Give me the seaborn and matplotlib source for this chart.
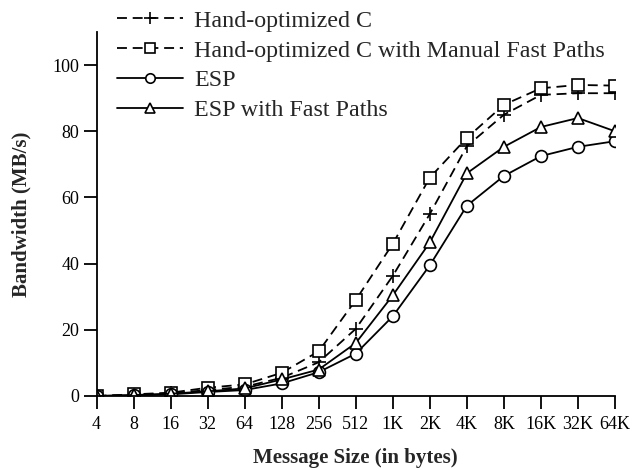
import numpy as np
import pandas as pd
import seaborn as sns
import matplotlib
matplotlib.use("Agg")
import matplotlib.pyplot as plt

sizes = [4, 8, 16, 32, 64, 128, 256, 512, 1024, 2048, 4096, 8192, 16384, 32768, 65536]
tick_labels = ["4", "8", "16", "32", "64", "128", "256", "512", "1K", "2K", "4K", "8K", "16K", "32K", "64K"]

hand_c = [0.0, 0.3, 0.8, 1.8, 2.8, 5.5, 10.2, 20.3, 36.3, 55.0, 75.5, 85.0, 91.0, 91.5, 91.5]
hand_c_fast = [0.0, 0.5, 1.0, 2.5, 3.5, 7.0, 13.5, 29.0, 46.0, 66.0, 78.0, 88.0, 93.0, 94.0, 93.8]
esp = [0.0, 0.2, 0.5, 1.2, 1.8, 3.8, 7.2, 12.8, 24.1, 39.5, 57.5, 66.5, 72.5, 75.3, 77.0]
esp_fast = [0.0, 0.3, 0.7, 1.4, 2.3, 5.0, 8.0, 16.0, 30.4, 46.4, 67.3, 75.3, 81.3, 84.0, 80.0]

series_names = ["Hand-optimized C", "Hand-optimized C with Manual Fast Paths",
                "ESP", "ESP with Fast Paths"]
series_values = [hand_c, hand_c_fast, esp, esp_fast]

sns.set_style("ticks")
plt.rcParams['font.family'] = ['Liberation Serif', 'DejaVu Serif']

W, H = 632, 470
fig = plt.figure(figsize=(W / 100, H / 100), dpi=100)
ax = fig.add_axes([96.5 / W, 1 - 396 / H, (615 - 96.5) / W, (396 - 32) / H])

styles = [
    dict(marker="+", dashes=(5.5, 3.2), ms=10, mew=1.2),
    dict(marker="s", dashes=(5.5, 3.2), ms=8.2, mew=1.2),
    dict(marker="o", dashes=None, ms=8.5, mew=1.2),
    dict(marker="^", dashes=None, ms=8.8, mew=1.2),
]

for name, vals, st in zip(series_names, series_values, styles):
    df = pd.DataFrame({"size": sizes, "bw": vals})
    line_kw = dict(color="black", lw=1.3, marker=st["marker"], markersize=st["ms"],
                   markerfacecolor="white", markeredgecolor="black",
                   markeredgewidth=st["mew"])
    sns.lineplot(data=df, x="size", y="bw", ax=ax, label=name, **line_kw)
    line = ax.get_lines()[-1]
    if st["dashes"] is not None:
        line.set_dashes(st["dashes"])

ax.set_xscale("log", base=2)
ax.set_xlim(4, 65536)
ax.set_ylim(0, 110)
ax.set_xticks(sizes)
ax.set_xticklabels(tick_labels)
ax.minorticks_off()
ax.set_yticks([0, 20, 40, 60, 80, 100])
ax.tick_params(axis="both", labelsize=13, direction="out", length=9.5, width=1.3,
               colors="black")
ax.tick_params(axis="x", pad=5)
ax.tick_params(axis="y", pad=3)
for sp in ["top", "right"]:
    ax.spines[sp].set_visible(False)
for sp in ["left", "bottom"]:
    ax.spines[sp].set_linewidth(1.3)
    ax.spines[sp].set_color("black")

ax.set_xlabel("Message Size (in bytes)", fontsize=15, fontweight="bold", labelpad=11)
ax.set_ylabel("Bandwidth (MB/s)", fontsize=15, fontweight="bold", labelpad=15)

leg = ax.legend(loc="upper left", bbox_to_anchor=(117 / W, 1 - 10 / H), bbox_transform=fig.transFigure,
                frameon=False, fontsize=17.3, handlelength=2.75, labelspacing=0.33,
                handletextpad=0.45, borderaxespad=0.0, borderpad=0.0, markerscale=0.8)

fig.savefig("out.png", dpi=100)
